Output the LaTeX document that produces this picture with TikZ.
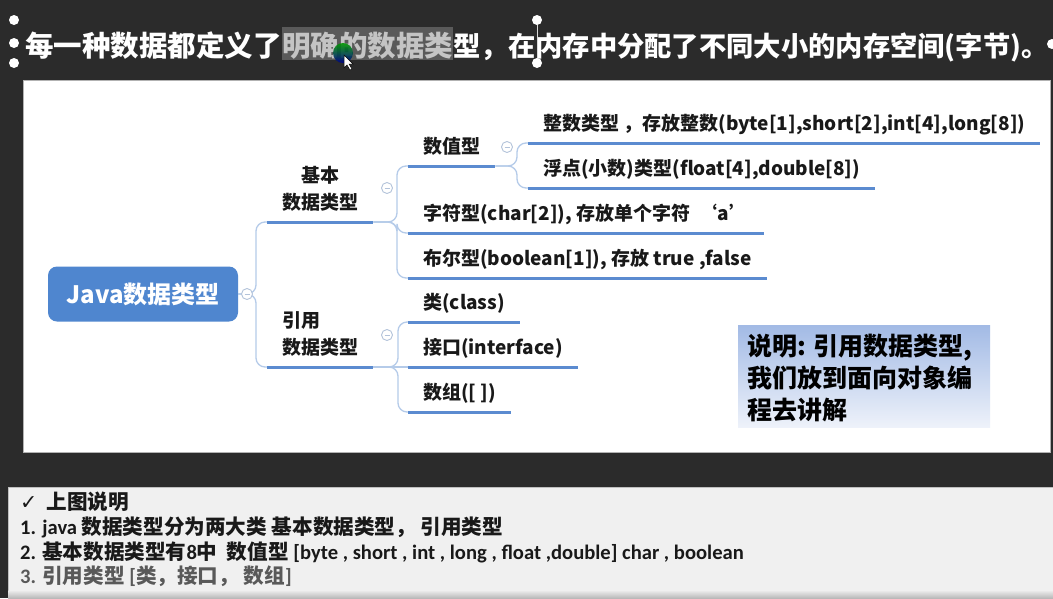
\documentclass[tikz,border=0pt]{standalone}
\usepackage{fontspec}
\newfontfamily\cjk{Noto Sans CJK SC}
\newfontfamily\calf{Carlito}
\newfontfamily\djv{DejaVu Sans}
\usetikzlibrary{calc}
\definecolor{board}{HTML}{2B2B2B}
\definecolor{rootblue}{HTML}{4F86CF}
\definecolor{ulblue}{HTML}{5B8BD0}
\definecolor{connblue}{HTML}{B5CBE9}
\definecolor{circgray}{HTML}{B3C3DA}
\definecolor{notetop}{HTML}{A2BAE5}
\definecolor{notebot}{HTML}{EEF2FA}
\definecolor{hlgray}{HTML}{5A5A5A}
\definecolor{hltext}{HTML}{C4C4C4}
\definecolor{panelgray}{HTML}{F0F0F0}
\newcommand\myzh[1]{{\cjk #1}}
\tikzset{
  titletext/.style={anchor=base west, inner sep=0pt, text=white, font=\cjk\bfseries\fontsize{28.5pt}{32pt}\selectfont},
  topic/.style={anchor=south west, inner xsep=15pt, inner ysep=0pt, text height=14pt, text depth=12pt, text=black!90, font=\cjk\bfseries\fontsize{19pt}{22pt}\selectfont},
  topline/.style={anchor=base, inner sep=0pt, text=black!90, font=\cjk\bfseries\fontsize{19pt}{22pt}\selectfont},
  uline/.style={draw=ulblue, line width=3pt},
  conn/.style={draw=connblue, line width=1.3pt, rounded corners=9pt},
  fold/.style={circle, draw=circgray, line width=0.9pt, fill=white, minimum size=11pt, inner sep=0pt,
    path picture={\draw[circgray, line width=0.9pt] ($(path picture bounding box.center)+(-2.5pt,0pt)$) -- ($(path picture bounding box.center)+(2.5pt,0pt)$);}},
  handle/.style={circle, fill=white, minimum size=10pt, inner sep=0pt},
  notetext/.style={anchor=base west, inner sep=0pt, text=black, font=\cjk\bfseries\fontsize{25pt}{30pt}\selectfont},
  bottomtext/.style={anchor=base west, inner sep=0pt, text=black!90, font=\calf\bfseries\fontsize{20.6pt}{24pt}\selectfont},
}
\begin{document}
\begin{tikzpicture}[x=1pt,y=-1pt]
\useasboundingbox (0,0) rectangle (1053,598);
\fill[board] (0,0) rectangle (1053,598);

% ---------- title ----------
\node[titletext] (t1) at (25,56) {每一种数据都定义了};
\node[titletext, fill=hlgray, text=hltext, text height=29pt, text depth=4pt] (t2) at (t1.base east) {明确的数据类};
\node[titletext, font=\cjk\bfseries\fontsize{27.3pt}{32pt}\selectfont] (t3) at (t2.base east) {型，在内存中分配了不同大小的内存空间(字节)。};
\foreach \i/\x/\y in {a/14/20, b/14/43, c/14/63, d/537/20, e/537/63, f/1052/44}
  \node[handle] (h\i) at (\x,\y) {};
\draw[white!85!black, line width=0.8pt] (hd) -- (he);
\shade[top color=green!60!black, bottom color=blue!55!black, opacity=0.9] (343,53) circle[radius=10pt];
\filldraw[fill=white, draw=black, line width=0.5pt] (344,55) -- (344,68) -- (347,65) -- (350,70) -- (352,69) -- (349,64) -- (353,64) -- cycle;

% ---------- white panel ----------
\filldraw[fill=white, draw=gray!60] (23,80) rectangle (1050,452);

% ---------- root ----------
\node[rounded corners=9pt, fill=rootblue, minimum width=190pt, minimum height=55pt, inner sep=0pt,
      text=white, font=\cjk\bfseries\fontsize{24pt}{28pt}\selectfont] (root) at (143,294) {Java数据类型};

% ---------- topics ----------
\node[topic] (jb) at (267,222) {数据类型};
\node[topline] (jb1) at ($(jb.base)+(0,-27)$) {基本};
\node[topic] (yy) at (267,367) {数据类型};
\node[topline, anchor=base west] (yy1) at ($(yy.base west)+(15,-27)$) {引用};

\node[topic] (sz) at (408,166) {数值型};
\node[topic] (zs) at (528,143) {整数类型 ，存放整数(byte[1],short[2],int[4],long[8])};
\node[topic] (fd) at (528,188) {浮点(小数)类型(float[4],double[8])};
\node[topic] (zf) at (408,233) {字符型(char[2]), 存放单个字符\ \ ‘a’};
\node[topic] (be) at (408,278) {布尔型(boolean[1]), 存放 true ,false};
\node[topic] (cls) at (408,322) {类(class)};
\node[topic] (itf) at (408,367) {接口(interface)};
\node[topic] (arr) at (408,412) {数组([ ])};

% ---------- connectors ----------
\draw[conn] (root.east) -| ($(jb.south west)+(-11,0)$) -- (jb.south west);
\draw[conn] (root.east) -| ($(yy.south west)+(-11,0)$) -- (yy.south west);
\draw[conn] (jb.south east) -| ($(sz.south west)+(-11,0)$) -- (sz.south west);
\draw[conn] (jb.south east) -| ($(zf.south west)+(-11,0)$) -- (zf.south west);
\draw[conn] (jb.south east) -| ($(be.south west)+(-11,0)$) -- (be.south west);
\draw[conn] (yy.south east) -| ($(cls.south west)+(-10,0)$) -- (cls.south west);
\draw[conn] (yy.south east) -- (itf.south west);
\draw[conn] (yy.south east) -| ($(arr.south west)+(-10,0)$) -- (arr.south west);
\draw[conn] (sz.south east) -| ($(zs.south west)+(-11,0)$) -- (zs.south west);
\draw[conn] (sz.south east) -| ($(fd.south west)+(-11,0)$) -- (fd.south west);

\foreach \n in {jb,yy,sz,zs,fd,zf,be,cls,itf,arr}
  \draw[uline] (\n.south west) -- (\n.south east);

\node[fold] (f0) at (247,294) {};
\node[fold] (f1) at (387,188) {};
\node[fold] (f2) at (387,335) {};
\node[fold] (f3) at (507,147) {};

% ---------- note ----------
\node[anchor=north west, minimum width=252pt, minimum height=102pt, inner sep=0pt,
      top color=notetop, bottom color=notebot] (notebox) at (738,325) {};
\node[notetext] (n1) at (747,355) {说明: 引用数据类型,};
\node[notetext] (n2) at (747,387) {我们放到面向对象编};
\node[notetext] (n3) at (747,419) {程去讲解};

% ---------- bottom panel ----------
\filldraw[fill=panelgray, draw=gray!50] (8,487) rectangle (1053,600);
\shade[top color=panelgray, bottom color=gray!55] (8.5,590) rectangle (1053,598);
\node[bottomtext] (b0) at (20,509) {{\djv\mdseries ✓}\ \ \myzh{上图说明}};
\node[bottomtext] (b1) at (20,534) {1. java \myzh{数据类型分为两大类 基本数据类型，\ 引用类型}};
\node[bottomtext] (b2) at (20,559) {2. \myzh{基本数据类型有}8\myzh{中}\ \ \myzh{数值型} [byte , short , int , long , float ,double] char , boolean};
\node[bottomtext, text=black!65] (b3) at (20,583) {3. \myzh{引用类型} [\myzh{类，接口，\ 数组}]};
\end{tikzpicture}
\end{document}
